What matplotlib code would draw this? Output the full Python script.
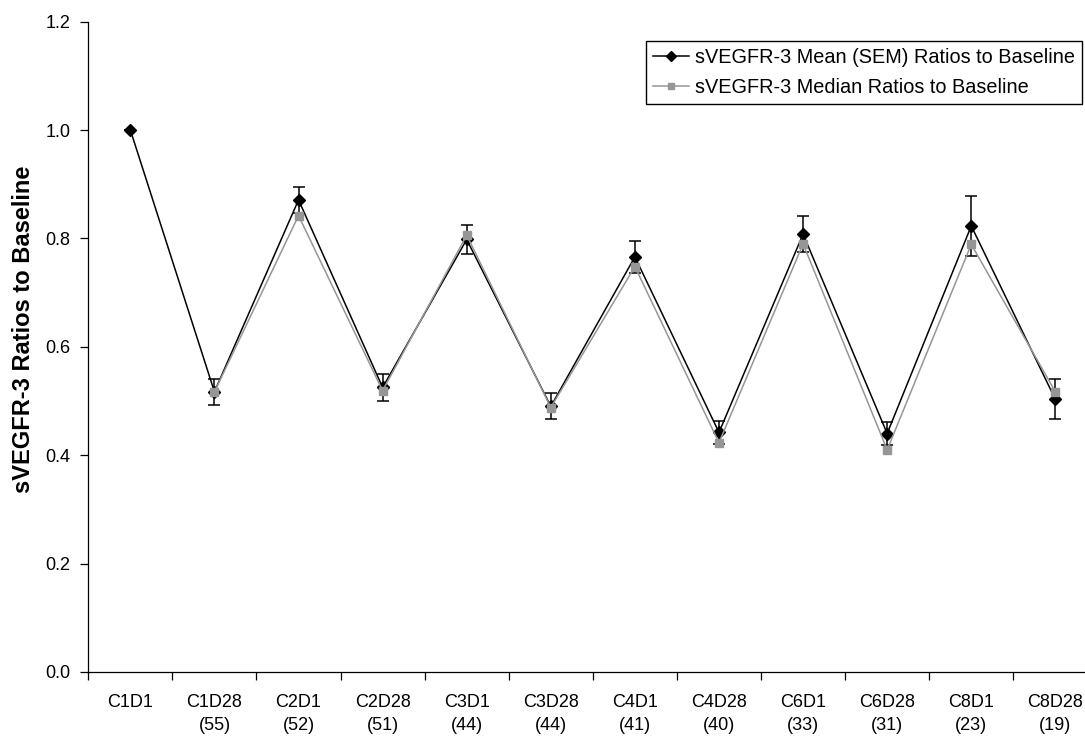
import numpy as np
import matplotlib
matplotlib.use("Agg")
import matplotlib.pyplot as plt
from matplotlib import font_manager
from matplotlib.lines import Line2D

# ----------------------------------------------------------------------
# Data
# ----------------------------------------------------------------------
visits = ["C1D1", "C1D28", "C2D1", "C2D28", "C3D1", "C3D28",
          "C4D1", "C4D28", "C6D1", "C6D28", "C8D1", "C8D28"]
n_patients = ["", "(55)", "(52)", "(51)", "(44)", "(44)",
              "(41)", "(40)", "(33)", "(31)", "(23)", "(19)"]

mean_ratio = [1.000, 0.517, 0.871, 0.525, 0.798, 0.490,
              0.766, 0.442, 0.808, 0.440, 0.823, 0.503]
sem_ratio = [0.000, 0.024, 0.024, 0.025, 0.027, 0.024,
             0.030, 0.021, 0.033, 0.021, 0.055, 0.037]
median_ratio = [np.nan, 0.517, 0.842, 0.519, 0.806, 0.488,
                0.748, 0.423, 0.790, 0.410, 0.789, 0.517]

mean_label = "sVEGFR-3 Mean (SEM) Ratios to Baseline"
median_label = "sVEGFR-3 Median Ratios to Baseline"

# ----------------------------------------------------------------------
# Fonts
# ----------------------------------------------------------------------
names = {f.name for f in font_manager.fontManager.ttflist}
base_font = "Liberation Sans" if "Liberation Sans" in names else "DejaVu Sans"
label_font = "Liberation Sans Narrow" if "Liberation Sans Narrow" in names else base_font
plt.rcParams["font.family"] = [base_font, "DejaVu Sans"]

# ----------------------------------------------------------------------
# Figure
# ----------------------------------------------------------------------
W, H = 1085, 736
fig = plt.figure(figsize=(W / 100, H / 100), dpi=100)
# axis runs a little past the right edge, as in the reference
left, right, top, bottom = 88.3, 1097.4, 21.6, 672.0
ax = fig.add_axes([left / W, 1 - bottom / H, (right - left) / W, (bottom - top) / H])

x = np.arange(len(visits))
gray = "#969696"

ax.errorbar(x, mean_ratio, yerr=sem_ratio, color="black", lw=1.1,
            marker="D", markersize=6, ecolor="black", elinewidth=1.1,
            capsize=4.5, capthick=1.1, zorder=3)
ax.plot(x, median_ratio, color=gray, lw=1.1, marker="s", markersize=6,
        markeredgecolor=gray, zorder=4)

ax.set_xlim(-0.5, len(visits) - 0.5)
ax.set_ylim(0, 1.2)
yt = np.arange(0, 1.21, 0.2)
ax.set_yticks(yt)
ax.set_yticklabels([f"{v:.1f}" for v in yt], fontsize=13)

ax.set_xticks(np.arange(-0.5, len(visits), 1.0))
ax.set_xticklabels([])
ax.set_xticks(x, minor=True)
ax.set_xticklabels([f"{v}\n{n}" for v, n in zip(visits, n_patients)],
                   minor=True, fontsize=13, linespacing=1.45, va="top")
ax.tick_params(axis="x", which="major", direction="out", length=6, width=0.9)
ax.tick_params(axis="x", which="minor", length=0, pad=16)
ax.tick_params(axis="y", direction="out", length=6, width=0.9, pad=7)

for side in ["top", "right"]:
    ax.spines[side].set_visible(False)
for side in ["left", "bottom"]:
    ax.spines[side].set_linewidth(0.9)

ax.set_ylabel("sVEGFR-3 Ratios to Baseline", fontsize=17, fontweight="bold",
              family=[label_font, base_font], va="center")
ax.yaxis.set_label_coords((24 - left) / (right - left), (bottom - 329) / (bottom - top))

handles = [
    Line2D([], [], color="black", lw=1.1, marker="D", markersize=5),
    Line2D([], [], color=gray, lw=1.1, marker="s", markersize=5,
           markeredgecolor=gray),
]
leg = ax.legend(handles, [mean_label, median_label], loc="upper right",
                bbox_to_anchor=(1082 / W, 1 - 41 / H),
                bbox_transform=fig.transFigure, fontsize=14.3, frameon=True,
                fancybox=False, edgecolor="black", framealpha=1,
                handlelength=1.8, handletextpad=0.3, borderpad=0.35,
                labelspacing=0.55, borderaxespad=0)
leg.get_frame().set_linewidth(1.0)

fig.savefig("out.png", dpi=100)
